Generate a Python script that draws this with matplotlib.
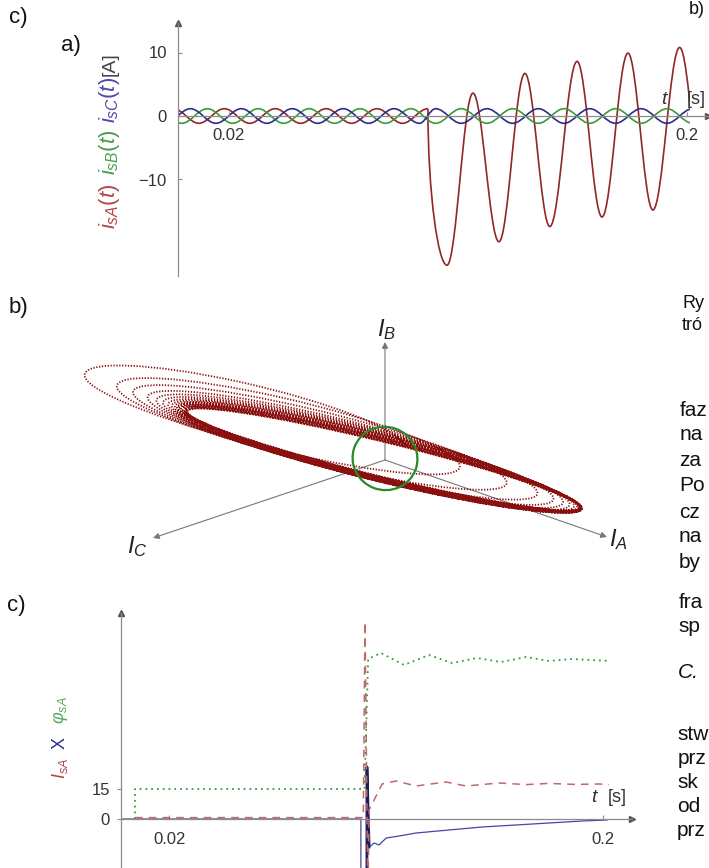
import matplotlib
matplotlib.use('Agg')
import matplotlib.pyplot as plt
from matplotlib.path import Path
from matplotlib.patches import PathPatch, Ellipse, Rectangle

plt.rcParams['font.family'] = ['Liberation Sans', 'DejaVu Sans']
plt.rcParams['mathtext.fontset'] = 'custom'
plt.rcParams['mathtext.rm'] = 'Liberation Sans'
plt.rcParams['mathtext.it'] = 'Liberation Sans:italic'
plt.rcParams['mathtext.bf'] = 'Liberation Sans:bold'

W, H = 709, 868

# ---- a) phase currents, extrema (t [s], i [A]) ----
ia_pre_t = [-0.0018, 0.0082, 0.0182, 0.0282, 0.0382, 0.0482, 0.0582, 0.0682, 0.0782, 0.0882, 0.0982]
ia_pre_v = [1.15, -1.15, 1.15, -1.15, 1.15, -1.15, 1.15, -1.15, 1.15, -1.15, 1.15]
ia_post_t = [0.0982, 0.1057, 0.1159, 0.1261, 0.1363, 0.1461, 0.1568, 0.1666, 0.1768, 0.1866, 0.1971, 0.2071]
ia_post_v = [1.15, -23.5, 3.6, -19.8, 6.7, -17.4, 8.6, -15.9, 9.9, -14.8, 10.8, -14.0]
ib_t = [-0.0085, 0.0015, 0.0115, 0.0215, 0.0315, 0.0415, 0.0515, 0.0615, 0.0715, 0.0815, 0.0915,
        0.1012, 0.1113, 0.1214, 0.1315, 0.1416, 0.1517, 0.1618, 0.1719, 0.1820, 0.1921, 0.2022]
ib_v = [1.15, -1.15, 1.15, -1.15, 1.15, -1.15, 1.15, -1.15, 1.15, -1.15, 1.15,
        -1.15, 1.15, -1.15, 1.15, -1.15, 1.15, -1.15, 1.15, -1.15, 1.15, -1.15]
ic_t = [-0.0051, 0.0049, 0.0149, 0.0249, 0.0349, 0.0449, 0.0549, 0.0649, 0.0749, 0.0849, 0.0949,
        0.1012, 0.1113, 0.1214, 0.1315, 0.1416, 0.1517, 0.1618, 0.1719, 0.1820, 0.1921, 0.2022]
ic_v = [-1.15, 1.15, -1.15, 1.15, -1.15, 1.15, -1.15, 1.15, -1.15, 1.15, -1.15,
        1.15, -1.15, 1.15, -1.15, 1.15, -1.15, 1.15, -1.15, 1.15, -1.15, 1.15]
t_end = 0.2013

# ---- b) current trajectory: iA at the tips of the loops [A], loop width factor ----
loop_start = 1.15
loop_left = [-20.3, -18.1, -17.0, -16.0, -15.4, -14.95, -14.6, -14.35, -14.15, -14.0,
             -13.9, -13.8, -13.7, -13.6, -13.5, -13.45, -13.4, -13.35, -13.3, -13.3]
loop_right = [4.9, 8.1, 10.2, 11.3, 11.95, 12.4, 12.7, 12.9, 13.05, 13.15,
              13.2, 13.25, 13.25, 13.2, 13.2, 13.15, 13.15, 13.1, 13.1, 13.1]
loop_width = [1.6, 1.55, 1.5, 1.47, 1.44, 1.41, 1.38, 1.35, 1.32, 1.29,
              1.26, 1.23, 1.2, 1.17, 1.14, 1.11, 1.08, 1.05, 1.02, 1.0]
bc_tip = (0.19, 1.26)     # iB/iC part at the tips
bc_mid = (-0.26, 1.2)     # iB/iC part half way
pre_fault_radius = 2.1

# ---- c) amplitude, X, angle ----
phi_t = [0.0058, 0.0058, 0.1010, 0.1025, 0.1078, 0.1174, 0.1277, 0.1373, 0.1477, 0.1576, 0.1680, 0.1775, 0.1870, 0.2030]
phi_v = [0, 15, 15, 80, 83, 77, 82, 78, 80.5, 78.5, 81, 79, 80, 79]
isa_t = [0.0058, 0.1005, 0.1012, 0.1024, 0.1029, 0.1083, 0.1141, 0.1224, 0.1348, 0.1431, 0.1568, 0.1680, 0.1775, 0.1880, 0.1983, 0.2024]
isa_v = [0.7, 0.7, 98.5, -40, 4.5, 17.5, 19, 16.5, 18.5, 16.5, 18, 17.2, 17.8, 17.3, 17.5, 17.2]
x_t = [0.0, 0.0995, 0.0995, 0.1020, 0.1020, 0.1029, 0.1050, 0.1070, 0.1100, 0.1154, 0.1224, 0.1360, 0.1497, 0.1638, 0.1775, 0.1912, 0.2016]
x_v = [0, 0, -60, -60, 26, -14, -12, -13, -9.5, -8.5, -7, -5.5, -4, -3, -2, -1, -0.5]

RED = '#922626'
GREEN = '#3a9a3a'
BLUE = '#2c2c8c'
AXC = '#8c8c8c'
TXT = '#333333'
K = 0.3634      # bezier handle for a half cosine
KAPPA = 0.5523  # bezier handle for a quarter circle


def box(x0, y0, x1, y1):
    return [x0 / W, 1 - y1 / H, (x1 - x0) / W, (y1 - y0) / H]


def ftext(x, y, s, **kw):
    fig.text(x / W, 1 - y / H, s, **kw)


def wave(ax, ts, vs, color, steep_first=False, lw=1.2):
    verts = [(ts[0], vs[0])]
    codes = [Path.MOVETO]
    for i in range(len(ts) - 1):
        t0, v0, t1, v1 = ts[i], vs[i], ts[i + 1], vs[i + 1]
        dt = t1 - t0
        if steep_first and i == 0:
            c1 = (t0, v0 + 0.55 * (v1 - v0))
            c2 = (t1 - 0.45 * dt, v1)
        else:
            c1 = (t0 + K * dt, v0)
            c2 = (t1 - K * dt, v1)
        verts += [c1, c2, (t1, v1)]
        codes += [Path.CURVE4] * 3
    p = PathPatch(Path(verts, codes), fill=False, edgecolor=color, lw=lw)
    ax.add_patch(p)
    p.set_clip_path(Rectangle((0, -100), t_end, 200, transform=ax.transData))


def arrow_axes(ax, ymin, ymax, xmax):
    for s in ['top', 'right']:
        ax.spines[s].set_visible(False)
    ax.spines['left'].set_position(('data', 0))
    ax.spines['bottom'].set_position(('data', 0))
    ax.spines['left'].set_bounds(ymin, ymax)
    ax.spines['bottom'].set_bounds(0, xmax)
    for s in ['left', 'bottom']:
        ax.spines[s].set_color(AXC)
        ax.spines[s].set_linewidth(0.9)
    ax.plot(0, ymax, marker='^', ms=4, color='#555555', clip_on=False)
    ax.plot(xmax, 0, marker='>', ms=4, color='#555555', clip_on=False)
    ax.patch.set_alpha(0)


fig = plt.figure(figsize=(W / 100, H / 100), dpi=100)

# ---------------- a) ----------------
axa = fig.add_axes(box(178, 10, 709, 290))
axa.set_xlim(0, 531 / 2545)
axa.set_ylim((116 - 290) / 6.35, (116 - 10) / 6.35)
arrow_axes(axa, -25.2, 14.6, 0.2082)
wave(axa, ia_pre_t, ia_pre_v, RED)
wave(axa, ia_post_t, ia_post_v, RED, steep_first=True)
wave(axa, ib_t, ib_v, GREEN)
wave(axa, ic_t, ic_v, BLUE)
axa.set_yticks([10, 0, -10], ['10', '0', '\u221210'])
axa.set_xticks([0.02, 0.2], ['0.02', '0.2'])
axa.tick_params(axis='y', direction='in', length=3, pad=8, labelsize=12, colors=AXC, labelcolor=TXT)
axa.tick_params(axis='x', direction='in', length=3, pad=9, labelsize=12, colors=AXC, labelcolor=TXT)

ftext(110, 206, r'$i_{sA}(t)$', rotation=90, ha='center', va='center', fontsize=16, color='#b04848')
ftext(110, 152, r'$i_{sB}(t)$', rotation=90, ha='center', va='center', fontsize=16, color='#4c9c4c')
ftext(110, 100, r'$i_{sC}(t)$', rotation=90, ha='center', va='center', fontsize=16, color='#4a4aa6')
ftext(110, 64, '[A]', rotation=90, ha='center', va='center', fontsize=14, color='#444444')
ftext(665, 100, r'$t$', ha='center', va='center', fontsize=14, color=TXT)
ftext(696, 100, '[s]', ha='center', va='center', fontsize=13, color=TXT)

# ---------------- b) ----------------
SC = 15.5  # px per A in the projection
axb = fig.add_axes(box(0, 280, 709, 600))
axb.set_xlim(-385 / SC, 324 / SC)
axb.set_ylim(-140 / SC, 180 / SC)
axb.axis('off')
tip_a, tip_b, tip_c = (222 / SC, -77 / SC), (0, 118 / SC), (-232 / SC, -78 / SC)
arr = dict(arrowstyle='-|>', color='#777777', lw=0.8, mutation_scale=9, shrinkA=0, shrinkB=0)
for tip in [tip_a, tip_b, tip_c]:
    axb.annotate('', xy=tip, xytext=(0, 0), arrowprops=arr, zorder=1)

# direction of the I_A axis in the projection
norm = (tip_a[0] ** 2 + tip_a[1] ** 2) ** 0.5
ea = (tip_a[0] / norm, tip_a[1] / norm)
unit_half = [(1, 0), (1, KAPPA), (KAPPA, 1), (0, 1), (-KAPPA, 1), (-1, KAPPA), (-1, 0)]
tips = [loop_start]
widths = []
for lo, hi, wt in zip(loop_left, loop_right, loop_width):
    tips += [lo, hi]
    widths += [wt, wt]
verts, codes = [], []
for k in range(len(tips) - 1):
    u0, u1 = tips[k], tips[k + 1]
    c, a = (u0 + u1) / 2, (u1 - u0) / 2
    s = 1 if k % 2 == 0 else -1
    C = (c * ea[0], c * ea[1])
    U = (-a * ea[0] + s * bc_tip[0], -a * ea[1] + s * bc_tip[1])
    V = (s * widths[k] * bc_mid[0], s * widths[k] * bc_mid[1])
    pts = [(C[0] + x * U[0] + y * V[0], C[1] + x * U[1] + y * V[1]) for x, y in unit_half]
    if k == 0:
        verts.append(pts[0])
        codes.append(Path.MOVETO)
    verts += pts[1:]
    codes += [Path.CURVE4] * 6
axb.add_patch(PathPatch(Path(verts, codes), fill=False, edgecolor='#8a1010', lw=1.3,
                        linestyle=(0, (0.7, 0.9)), zorder=2))
axb.add_patch(Ellipse((0, 0.1), 2 * pre_fault_radius, 2 * pre_fault_radius * 0.97, angle=-20,
                      fill=False, edgecolor='#2a8a2a', lw=1.6, zorder=3))
axb.text(2 / SC, 130 / SC, r'$I_B$', ha='center', va='center', fontsize=17, color='#222222')
axb.text(233 / SC, -80 / SC, r'$I_A$', ha='center', va='center', fontsize=17, color='#222222')
axb.text(-248 / SC, -87 / SC, r'$I_C$', ha='center', va='center', fontsize=17, color='#222222')

# ---------------- c) ----------------
axc = fig.add_axes(box(121, 600, 709, 868))
axc.set_xlim(0, 588 / 2411)
axc.set_ylim((819 - 868) / 2, (819 - 600) / 2)
arrow_axes(axc, -24.5, 103, 0.212)
axc.plot(x_t, x_v, color='#4545a5', lw=0.9)
axc.plot(x_t[3:6], x_v[3:6], color='#1c1c5e', lw=2.0)
axc.plot(isa_t, isa_v, color='#c06868', lw=1.1, linestyle=(0, (5, 4)))
axc.plot(phi_t, phi_v, color=GREEN, lw=1.3, linestyle=(0, (1, 2.2)))
axc.set_yticks([15, 0], ['15', '0'])
axc.set_xticks([0.02, 0.2], ['0.02', '0.2'])
axc.tick_params(axis='y', direction='out', length=3, pad=5, labelsize=12, colors=AXC, labelcolor=TXT)
axc.tick_params(axis='x', direction='in', length=3, pad=9, labelsize=12, colors=AXC, labelcolor=TXT)

ftext(60, 768, r'$I_{sA}$', rotation=90, ha='center', va='center', fontsize=13, color='#b04848')
ftext(60, 743, 'X', rotation=90, ha='center', va='center', fontsize=13, color='#2c2c8c')
ftext(60, 710, r'$\varphi_{sA}$', rotation=90, ha='center', va='center', fontsize=13, color='#5aa85a')
ftext(595, 798, r'$t$', ha='center', va='center', fontsize=14, color=TXT)
ftext(617, 798, '[s]', ha='center', va='center', fontsize=13, color=TXT)

# ---------------- panel labels and cut page text ----------------
ftext(18, 18, 'c)', ha='center', va='center', fontsize=16, color='#111111')
ftext(71, 46, 'a)', ha='center', va='center', fontsize=16, color='#111111')
ftext(18, 307, 'b)', ha='center', va='center', fontsize=16, color='#111111')
ftext(16, 605, 'c)', ha='center', va='center', fontsize=16, color='#111111')
ftext(697, 9, 'b)', ha='center', va='center', fontsize=13, color='#111111')

page = ['faz', 'na', 'za', 'Po', 'cz', 'na', 'by', 'fra', 'sp', 'stw', 'prz', 'sk', 'od', 'prz']
page_y = [410, 435, 461, 486, 512, 537, 563, 603, 627, 735, 758, 782, 807, 830]
body = dict(ha='left', va='center', fontsize=15, color='#111111',
            family=['Liberation Sans Narrow', 'Liberation Sans'])
ftext(682, 303, 'Ry', ha='left', va='center', fontsize=13, color='#111111')
ftext(682, 326, 'tr\u00f3', ha='left', va='center', fontsize=13, color='#111111')
for s, y in zip(page, page_y):
    ftext(680 - (y - 410) * 0.008, y, s, **body)
ftext(678, 673, 'C.', ha='left', va='center', fontsize=15, style='italic', color='#111111',
      family=['Liberation Sans Narrow', 'Liberation Sans'])

fig.savefig('out.png', dpi=100)
